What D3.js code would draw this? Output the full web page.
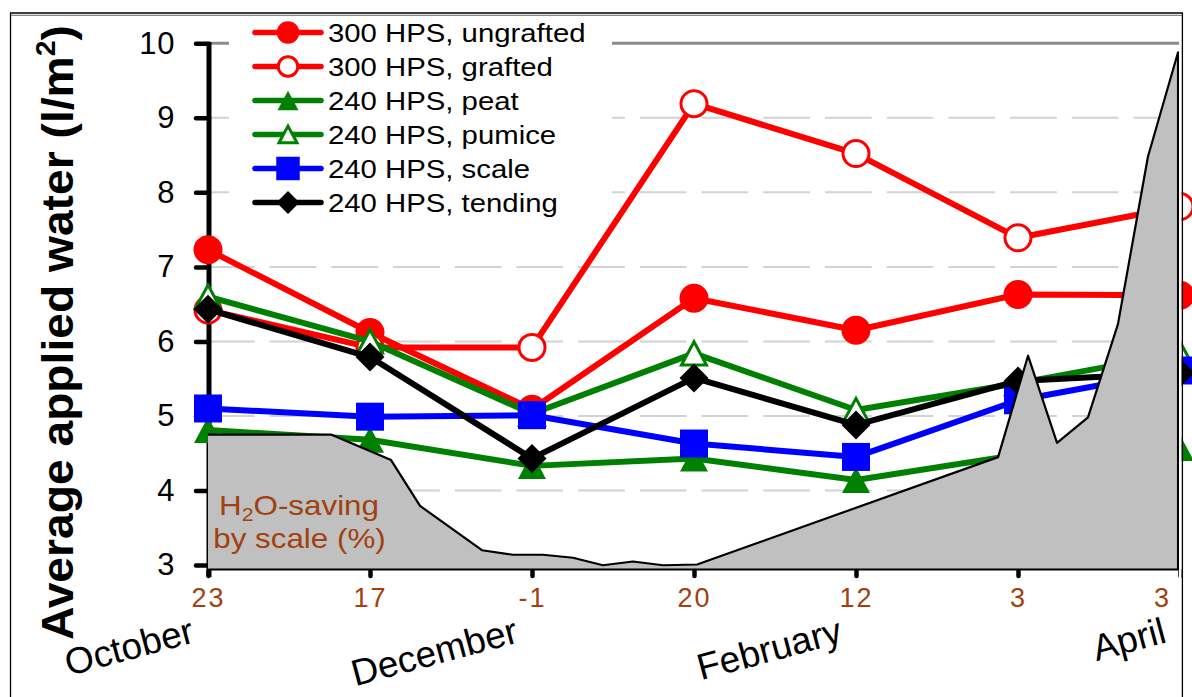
<!DOCTYPE html>
<html>
<head>
<meta charset="utf-8">
<script src="https://cdn.jsdelivr.net/npm/d3@7"></script>
<style>
  body { margin: 0; background: #fff; }
  svg { display: block; font-family: "Liberation Sans", Arial, sans-serif; }
</style>
</head>
<body>
<svg id="chart" width="1192" height="697"></svg>
<script>
// ---- data ----
const dateLabels = ["23", "17", "-1", "20", "12", "3", "3"];
const monthLabels = ["October", "December", "February", "April"];
const monthAt = [0, 2, 4, 6];

const ungrafted300 = [7.23, 6.12, 5.09, 6.58, 6.15, 6.63, 6.62];
const grafted300   = [6.42, 5.92, 5.92, 9.19, 8.52, 7.39, 7.81];
const peat240      = [4.81, 4.68, 4.33, 4.43, 4.14, 4.48, 4.57];
const pumice240    = [6.60, 6.00, 5.03, 5.84, 5.08, 5.44, 5.84];
const scale240     = [5.10, 4.99, 5.01, 4.63, 4.45, 5.21, 5.61];
const tending240   = [6.43, 5.79, 4.43, 5.51, 4.88, 5.47, 5.58];

const seriesNames = ["300 HPS, ungrafted", "300 HPS, grafted", "240 HPS, peat",
                     "240 HPS, pumice", "240 HPS, scale", "240 HPS, tending"];

const yTicks = [3, 4, 5, 6, 7, 8, 9, 10];

// water saving obtained by scale-based irrigation (%), along the date axis
const savingPos = [0, 0.759, 1.13, 1.309, 1.691, 1.883, 2.068, 2.253, 2.438, 2.623,
                   2.809, 3.019, 4.877, 5.062, 5.241, 5.432, 5.617, 5.802, 5.988];
const savingPct = [17.9, 17.9, 14.5, 8.4, 2.5, 1.9, 1.9, 1.5, 0.5, 1.0,
                   0.5, 0.6, 14.9, 28.4, 16.8, 20.2, 32.6, 54.9, 68.8];

// ---- styles ----
const RED = "#ff0000", GREEN = "#008000", BLUE = "#0000ff", BLACK = "#000000";
const BROWN = "#a0410f";
const series = [
  { name: seriesNames[0], values: ungrafted300, color: RED,   marker: "circle",   open: false },
  { name: seriesNames[1], values: grafted300,   color: RED,   marker: "circle",   open: true  },
  { name: seriesNames[2], values: peat240,      color: GREEN, marker: "triangle", open: false },
  { name: seriesNames[3], values: pumice240,    color: GREEN, marker: "triangle", open: true  },
  { name: seriesNames[4], values: scale240,     color: BLUE,  marker: "square",   open: false },
  { name: seriesNames[5], values: tending240,   color: BLACK, marker: "diamond",  open: false }
];

const svg = d3.select("#chart");
svg.append("rect").attr("width", 1192).attr("height", 697).attr("fill", "#fff");

// ---- scales ----
const x = d3.scaleLinear().domain([0, 6]).range([208, 1180]);
const y = d3.scaleLinear().domain([3, 10]).range([565, 43.3]);
const yPct = d3.scaleLinear().domain([0, 70]).range([569, 43.3]);
const baseY = 569;

// ---- gridlines ----
const grid = svg.append("g");
grid.selectAll("line.g").data(yTicks.filter(v => v > 3 && v < 10)).join("line")
  .attr("x1", x(0)).attr("x2", x(6))
  .attr("y1", d => y(d)).attr("y2", d => y(d))
  .attr("stroke", "#d2d2d2").attr("stroke-width", 2)
  .attr("stroke-dasharray", "46.7 15");
grid.append("line")
  .attr("x1", x(0)).attr("x2", x(6)).attr("y1", y(10)).attr("y2", y(10))
  .attr("stroke", "#8c8c8c").attr("stroke-width", 3);

// ---- y axis ----
const yAxis = d3.axisLeft(y).tickValues(yTicks).tickFormat(d3.format("d"))
  .tickSize(13).tickSizeOuter(0).tickPadding(21);
const gy = svg.append("g").attr("transform", "translate(209,0)").call(yAxis);
gy.select(".domain").remove();
gy.selectAll(".tick line").attr("stroke", "#000").attr("stroke-width", 4.5).attr("stroke-linecap", "round");
gy.selectAll(".tick text").attr("font-size", 31).attr("fill", "#000")
  .attr("font-family", "'Liberation Sans', Arial, sans-serif").attr("letter-spacing", 0.6);
svg.append("line").attr("x1", 209).attr("x2", 209).attr("y1", y(10) - 1).attr("y2", 577)
  .attr("stroke", "#000").attr("stroke-width", 5);

// ---- marker shapes ----
function markerPath(type, s) {
  const h = s / 2;
  if (type === "triangle") return `M0,${-h * 0.93}L${h},${h * 0.93}L${-h},${h * 0.93}Z`;
  if (type === "diamond") return `M0,${-h}L${h},0L0,${h}L${-h},0Z`;
  if (type === "square") return `M${-h},${-h}H${h}V${h}H${-h}Z`;
  return d3.arc()({ innerRadius: 0, outerRadius: h, startAngle: 0, endAngle: 2 * Math.PI });
}
function drawMarker(g, type, open, color, size) {
  const sw = open ? 3 : 0;
  g.append("path")
    .attr("d", markerPath(type, open ? size - sw : size))
    .attr("fill", open ? "#fff" : color)
    .attr("stroke", open ? color : "none")
    .attr("stroke-width", sw)
    .attr("stroke-linejoin", "miter");
}

// ---- series lines and markers ----
const line = d3.line().x((d, i) => x(i)).y(d => y(d));
const plotSize = { circle: 29, triangle: 28, square: 28, diamond: 29 };
series.forEach(s => {
  const g = svg.append("g");
  g.append("path").attr("d", line(s.values)).attr("fill", "none")
    .attr("stroke", s.color).attr("stroke-width", 6).attr("stroke-linejoin", "round");
  s.values.forEach((v, i) => {
    const m = g.append("g").attr("transform", `translate(${x(i)},${y(v)})`);
    drawMarker(m, s.marker, s.open, s.color, plotSize[s.marker]);
  });
});

// ---- saving area ----
const savingPts = savingPos.map((p, i) => [p, savingPct[i]]);
const area = d3.area().x(d => x(d[0])).y0(yPct(0)).y1(d => yPct(d[1]));
svg.append("path").attr("d", area(savingPts)).attr("fill", "#c0c0c0");
const last = savingPts[savingPts.length - 1];
const outline = d3.line().x(d => x(d[0])).y(d => yPct(d[1]));
svg.append("path")
  .attr("d", outline(savingPts.concat([[last[0], 0]])))
  .attr("fill", "none").attr("stroke", "#000").attr("stroke-width", 2.2).attr("stroke-linejoin", "round");

const h2o = svg.append("g").attr("fill", BROWN).attr("font-size", 28).attr("text-anchor", "middle");
const t1 = h2o.append("g").attr("transform", "translate(299,515) scale(1.12,1)").append("text");
t1.append("tspan").text("H");
t1.append("tspan").attr("font-size", 19).attr("dy", 6).text("2");
t1.append("tspan").attr("dy", -6).text("O-saving");
h2o.append("g").attr("transform", "translate(299.5,548) scale(1.12,1)").append("text").text("by scale (%)");

// ---- x axis ----
const xAxis = d3.axisBottom(x).tickValues(d3.range(7)).tickFormat(i => dateLabels[i])
  .tickSize(7).tickSizeOuter(0).tickPadding(12);
const gx = svg.append("g").attr("transform", `translate(0,${baseY})`).call(xAxis);
gx.select(".domain").attr("stroke", "#000").attr("stroke-width", 2);
gx.selectAll(".tick line").attr("stroke", "#000").attr("stroke-width", 4.5).attr("stroke-linecap", "round")
  .attr("y1", 2);
gx.selectAll(".tick text").attr("font-size", 27).attr("fill", BROWN)
  .attr("font-family", "'Liberation Sans', Arial, sans-serif").attr("letter-spacing", 2)
  .attr("x", (d, i) => i === 6 ? -18 : 0);

// month names under the date ticks
svg.append("g").selectAll("text").data(monthLabels).join("text")
  .attr("transform", (d, i) => `translate(${x(monthAt[i]) - 12},642) rotate(-15)`)
  .attr("text-anchor", "end").attr("font-size", 37).attr("fill", "#000")
  .text(d => d);

// ---- y axis title ----
const title = svg.append("g").attr("transform", "translate(73,640) rotate(-90) scale(1.05,1)")
  .append("text").attr("font-size", 44).attr("font-weight", "bold").attr("fill", "#000");
title.append("tspan").text("Average applied water (l/m");
title.append("tspan").attr("font-size", 27).attr("dy", -18).text("2");
title.append("tspan").attr("dy", 18).text(")");

// ---- legend ----
svg.append("rect").attr("x", 229).attr("y", 16).attr("width", 383).attr("height", 204).attr("fill", "#fff");
const legendSize = { circle: 22.5, triangle: 21, square: 23.5, diamond: 23 };
const lg = svg.append("g");
series.forEach((s, i) => {
  const cy = 32.5 + i * 34;
  const row = lg.append("g").attr("transform", `translate(0,${cy})`);
  row.append("line").attr("x1", 255).attr("x2", 321).attr("y1", 0).attr("y2", 0)
    .attr("stroke", s.color).attr("stroke-width", 5.5).attr("stroke-linecap", "round");
  const m = row.append("g").attr("transform", "translate(288,0)");
  drawMarker(m, s.marker, s.open, s.color, legendSize[s.marker]);
  row.append("g").attr("transform", "translate(328,9) scale(1.15,1)")
    .append("text").attr("font-size", 25.5).attr("fill", "#000").text(s.name);
});

// ---- frame ----
svg.append("rect").attr("x", 1179).attr("y", 16).attr("width", 2.6).attr("height", 681).attr("fill", "#fff");
svg.append("line").attr("x1", 1182.4).attr("x2", 1182.4).attr("y1", 13).attr("y2", 697)
  .attr("stroke", "#000").attr("stroke-width", 1.3);
svg.append("line").attr("x1", 10.5).attr("x2", 10.5).attr("y1", 13).attr("y2", 697)
  .attr("stroke", "#000").attr("stroke-width", 1.3);
svg.append("line").attr("x1", 10).attr("x2", 1183).attr("y1", 13).attr("y2", 13)
  .attr("stroke", "#000").attr("stroke-width", 1.3);
svg.append("line").attr("x1", 11).attr("x2", 1182).attr("y1", 15.3).attr("y2", 15.3)
  .attr("stroke", "#444").attr("stroke-width", 0.8);
</script>
</body>
</html>
